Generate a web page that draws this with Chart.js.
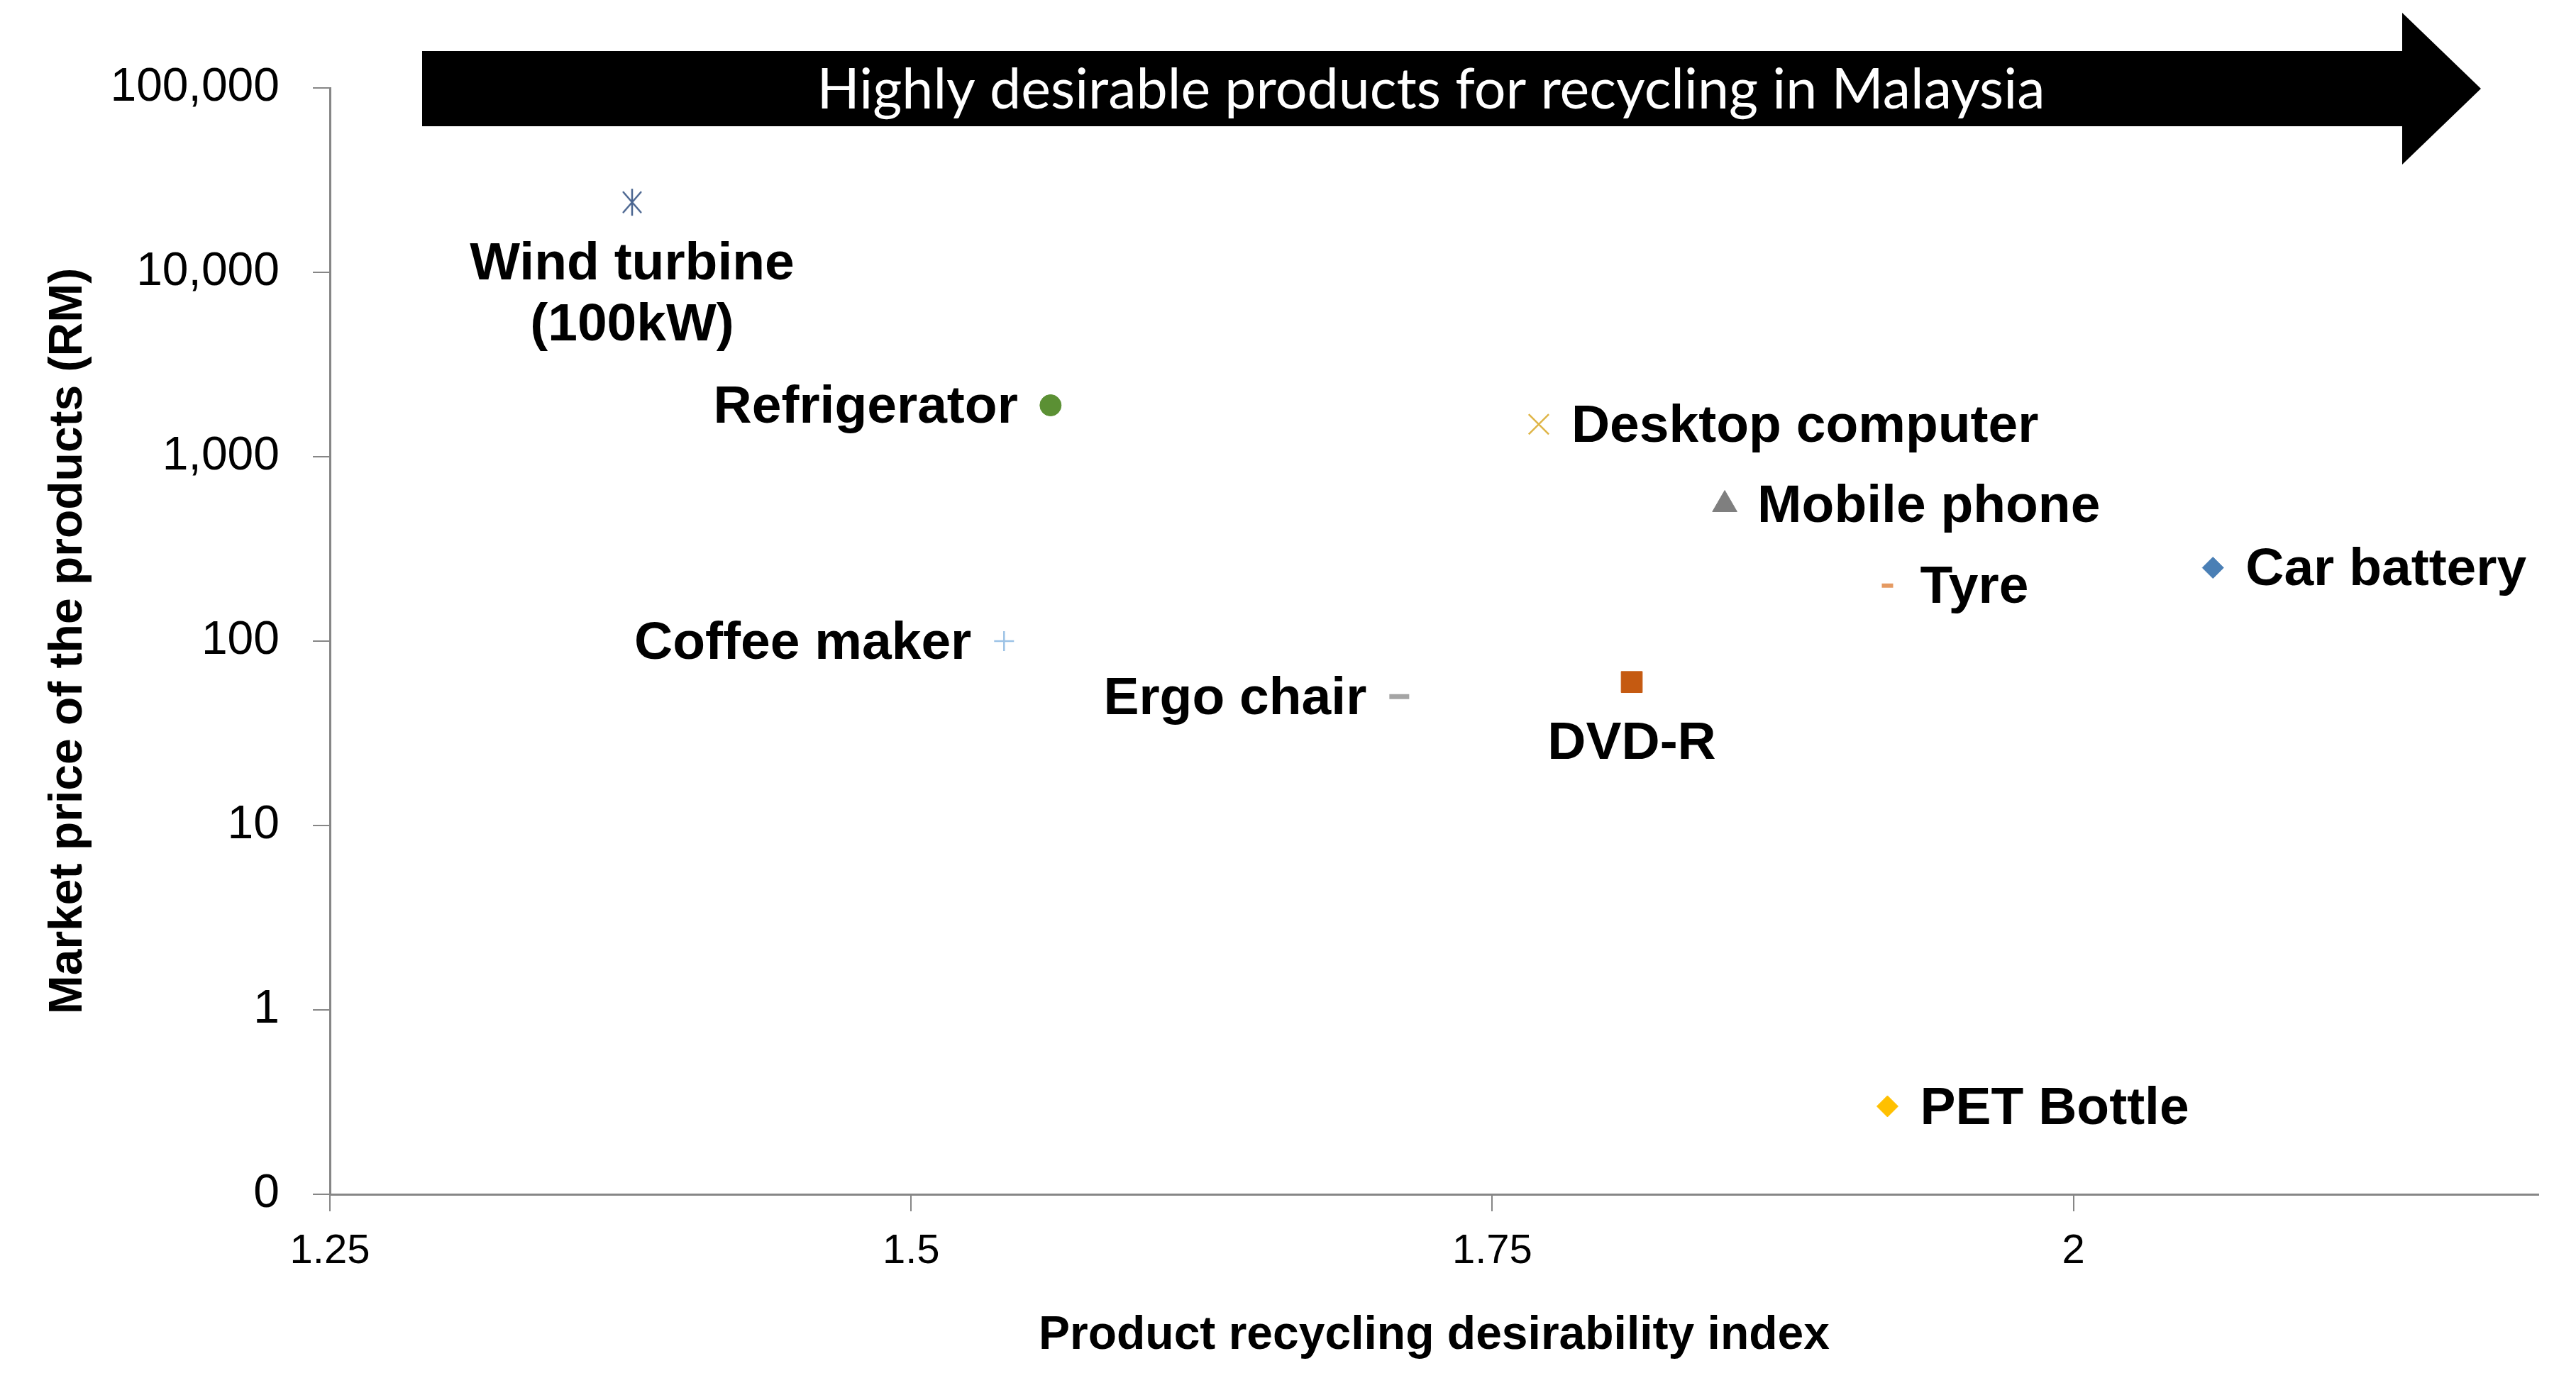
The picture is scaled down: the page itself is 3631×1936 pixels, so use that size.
<!DOCTYPE html>
<html>
<head>
<meta charset="utf-8">
<script src="https://cdn.jsdelivr.net/npm/chart.js@4.4.1/dist/chart.umd.min.js"></script>
<style>
  html, body { margin: 0; padding: 0; background: #fff; }
</style>
</head>
<body>
<canvas id="desirabilityChart" width="3631" height="1936"></canvas>
<script>
const products = [["Wind turbine", "(100kW)"], ["Refrigerator"], ["Desktop computer"], ["Mobile phone"], ["Tyre"],
    ["Car battery"], ["Coffee maker"], ["Ergo chair"], ["DVD-R"], ["PET Bottle"]];
const desirabilityIndex = [1.38, 1.56, 1.77, 1.85, 1.92, 2.06, 1.54, 1.71, 1.81, 1.92];
const marketPrice = [24000, 1900, 1500, 550, 200, 250, 100, 50, 60, 0.3];

const xTickValues = [1.25, 1.5, 1.75, 2];
const xTickLabels = ["1.25", "1.5", "1.75", "2"];
const yTickValues = [0.1, 1, 10, 100, 1000, 10000, 100000];
const yTickLabels = ["0", "1", "10", "100", "1,000", "10,000", "100,000"];

const bannerText = "Highly desirable products for recycling in Malaysia";

// marker look per product (same order as products)
const markerColors = ["#4a6590", "#5b9034", "#dfb547", "#7f7f7f", "#e59a62", "#4a7fb5", "#9dc3e6", "#a5a5a5", "#c55a11", "#ffc000"];
const labelSide = ["below", "left", "right", "right", "right", "right", "left", "left", "below", "right"];

// excel-like asterisk: x plus vertical bar
function asterisk(color) {
    const c = document.createElement('canvas');
    c.width = 44; c.height = 44;
    const g = c.getContext('2d');
    g.strokeStyle = color;
    g.lineWidth = 2.5;
    g.beginPath();
    g.moveTo(9, 7); g.lineTo(35, 37);
    g.moveTo(35, 7); g.lineTo(9, 37);
    g.moveTo(22, 3); g.lineTo(22, 41);
    g.stroke();
    return c;
}

const markerStyles = [asterisk(markerColors[0]), "circle", "crossRot", "triangle", "line", "rectRot", "cross", "line", "rect", "rectRot"];
const markerRadius = [22, 15, 20, 20, 8, 15, 14, 14, 21, 15];
const markerBorder = [2, 1, 2.5, 1, 6, 1, 2.5, 7, 1, 1];

const labelFont = 'bold 75px "Liberation Sans", Arial, sans-serif';
const titleFamily = '"Liberation Sans", Arial, sans-serif';

const pointLabels = {
    id: 'pointLabels',
    afterDatasetsDraw(chart) {
        const ctx = chart.ctx;
        const meta = chart.getDatasetMeta(0);
        ctx.save();
        ctx.font = labelFont;
        ctx.fillStyle = '#000';
        ctx.textBaseline = 'middle';
        meta.data.forEach((pt, i) => {
            const lines = products[i];
            const side = labelSide[i];
            lines.forEach((line, j) => {
                if (side === 'left') {
                    ctx.textAlign = 'right';
                    ctx.fillText(line, pt.x - 46, pt.y + 4);
                } else if (side === 'right') {
                    ctx.textAlign = 'left';
                    ctx.fillText(line, pt.x + 46, pt.y + 4);
                } else {
                    ctx.textAlign = 'center';
                    ctx.fillText(line, pt.x, pt.y + 88 + j * 86);
                }
            });
        });
        ctx.restore();
    }
};

const banner = {
    id: 'banner',
    afterDraw(chart) {
        const ctx = chart.ctx;
        ctx.save();
        ctx.fillStyle = '#000';
        ctx.beginPath();
        ctx.moveTo(595, 72);
        ctx.lineTo(3386, 72);
        ctx.lineTo(3386, 18);
        ctx.lineTo(3497, 125);
        ctx.lineTo(3386, 232);
        ctx.lineTo(3386, 178);
        ctx.lineTo(595, 178);
        ctx.closePath();
        ctx.fill();
        ctx.fillStyle = '#fff';
        ctx.font = '79px Lato, "Open Sans", sans-serif';
        ctx.textAlign = 'center';
        ctx.textBaseline = 'middle';
        ctx.fillText(bannerText, 2017, 128);
        ctx.restore();
    }
};

const axisGray = '#868686';

const config = {
    type: 'scatter',
    data: {
        datasets: [{
            label: 'Products',
            data: desirabilityIndex.map((x, i) => ({ x: x, y: marketPrice[i] })),
            pointStyle: markerStyles,
            pointRadius: markerRadius,
            pointHoverRadius: markerRadius,
            pointBackgroundColor: markerColors,
            pointBorderColor: markerColors,
            pointBorderWidth: markerBorder,
        }]
    },
    options: {
        responsive: false,
        animation: false,
        devicePixelRatio: 1,
        layout: { padding: { top: 124, right: 53, left: 0, bottom: 0 } },
        plugins: {
            legend: { display: false },
            tooltip: { enabled: false },
        },
        scales: {
            x: {
                type: 'linear',
                min: 1.25,
                max: 2.2,
                afterBuildTicks: scale => { scale.ticks = xTickValues.map(v => ({ value: v })); },
                afterFit: scale => { scale.height = 252; },
                ticks: {
                    callback: (v, i) => xTickLabels[i],
                    font: { family: '"Liberation Sans", Arial, sans-serif', size: 58 },
                    color: '#000',
                    padding: 22,
                    maxRotation: 0,
                },
                grid: { drawOnChartArea: false, drawTicks: true, tickLength: 24, color: axisGray, lineWidth: 2 },
                border: { display: true, color: axisGray, width: 3 },
                title: {
                    display: true,
                    text: 'Product recycling desirability index',
                    color: '#000',
                    font: { family: titleFamily, size: 66, weight: 'bold' },
                    padding: { top: 0, bottom: 13 },
                },
            },
            y: {
                type: 'logarithmic',
                min: 0.1,
                max: 100000,
                afterBuildTicks: scale => { scale.ticks = yTickValues.map(v => ({ value: v })); },
                afterFit: scale => { scale.width = 465; },
                ticks: {
                    callback: (v, i) => yTickLabels[i],
                    font: { family: '"Liberation Sans", Arial, sans-serif', size: 66 },
                    color: '#000',
                    padding: 47,
                },
                grid: { drawOnChartArea: false, drawTicks: true, tickLength: 24, color: axisGray, lineWidth: 2 },
                border: { display: true, color: axisGray, width: 3 },
                title: {
                    display: true,
                    text: 'Market price of the products (RM)',
                    color: '#000',
                    font: { family: titleFamily, size: 66, weight: 'bold' },
                    padding: { top: 57, bottom: 0 },
                },
            },
        },
    },
    plugins: [pointLabels, banner],
};

const desirabilityChart = new Chart(document.getElementById('desirabilityChart'), config);
</script>
</body>
</html>
